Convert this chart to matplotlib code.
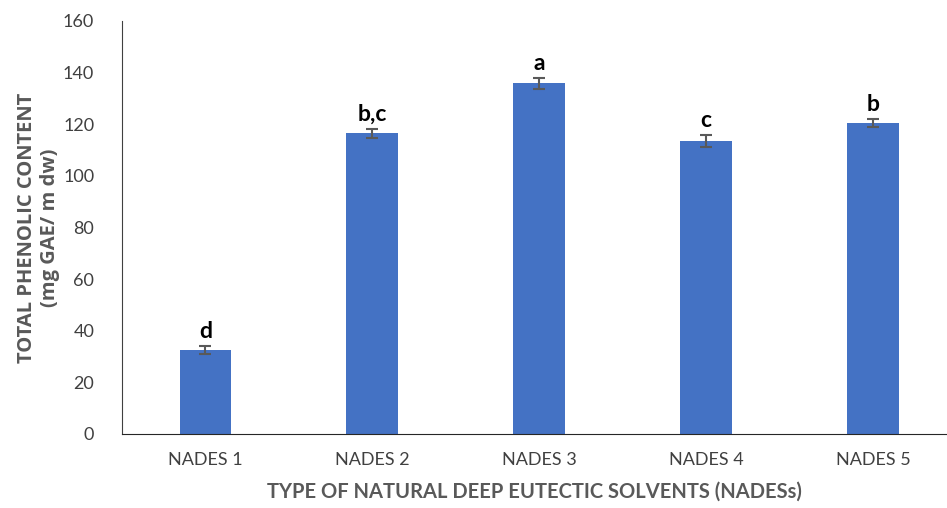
import matplotlib.pyplot as plt

# -----------------------------
# Data
# -----------------------------

solvents = ['NADES 1', 'NADES 2', 'NADES 3', 'NADES 4', 'NADES 5']
phenolic = [32.5, 116.5, 135.8, 113.5, 120.5]
errors = [1.5, 1.8, 2.3, 2.2, 1.7]
letters = ['d', 'b,c', 'a', 'c', 'b']

plt.rcParams['font.family'] = ['Lato', 'DejaVu Sans']

# -----------------------------
# Plot
# -----------------------------

fig = plt.figure(figsize=(9.47, 5.08), dpi=100)
ax = fig.add_axes([0.1288, 0.1457, 0.8712, 0.813])

x = range(len(solvents))
ax.bar(x, phenolic, width=0.31, color='#4472C4', zorder=2)
ax.errorbar(x, phenolic, yerr=errors, fmt='none', ecolor='#595959',
            elinewidth=1.5, capsize=4, capthick=1.5, zorder=3)

for i, (v, e, lab) in enumerate(zip(phenolic, errors, letters)):
    ax.text(i, v + e + 1.5, lab, ha='center', va='bottom',
            fontsize=16.5, fontweight='bold', color='black')

ax.set_xlim(-0.5, 4.443)
ax.set_ylim(0, 160)
ax.set_yticks(range(0, 161, 20))
ax.set_xticks(list(x))
ax.set_xticklabels(solvents)
ax.tick_params(axis='both', length=0, labelsize=13, labelcolor='#404040')
ax.tick_params(axis='y', pad=20)
ax.tick_params(axis='x', pad=13)

for side in ['top', 'right']:
    ax.spines[side].set_visible(False)
ax.spines['left'].set_color('#404040')
ax.spines['bottom'].set_color('#262626')

ax.set_xlabel('TYPE OF NATURAL DEEP EUTECTIC SOLVENTS (NADESs)',
              fontsize=14.5, fontweight='bold', color='#595959', labelpad=10)
ax.set_ylabel('TOTAL PHENOLIC CONTENT\n(mg GAE/ m dw)',
              fontsize=14.5, fontweight='bold', color='#595959', labelpad=2,
              family=['Open Sans', 'DejaVu Sans'], linespacing=1.2)

fig.savefig('out.png', dpi=100)
